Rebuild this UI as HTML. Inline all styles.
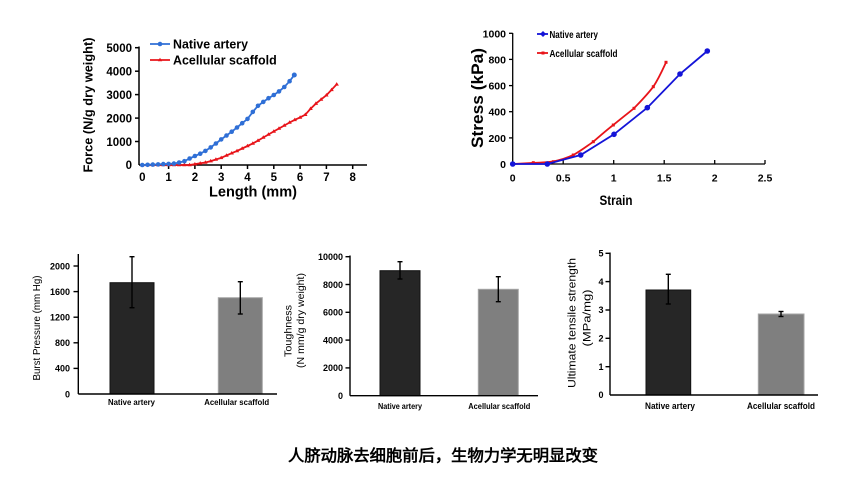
<!DOCTYPE html>
<html><head><meta charset="utf-8"><style>
html,body{margin:0;padding:0;background:#fff;}
svg{display:block;}
text{font-family:"Liberation Sans",Arial,sans-serif;}
</style></head><body>
<svg width="847" height="487" viewBox="0 0 847 487" xmlns="http://www.w3.org/2000/svg">
<rect width="847" height="487" fill="#fff"/>

<!-- ===== Chart 1: Force vs Length ===== -->
<g stroke="#000" stroke-width="1.5" fill="none">
  <line x1="139" y1="46.5" x2="139" y2="165"/>
  <line x1="139" y1="165" x2="367" y2="165"/>
  <line x1="135" y1="47.7" x2="139" y2="47.7"/>
  <line x1="135" y1="71.2" x2="139" y2="71.2"/>
  <line x1="135" y1="94.6" x2="139" y2="94.6"/>
  <line x1="135" y1="118.1" x2="139" y2="118.1"/>
  <line x1="135" y1="141.5" x2="139" y2="141.5"/>
  <line x1="168.6" y1="165" x2="168.6" y2="169"/>
  <line x1="194.9" y1="165" x2="194.9" y2="169"/>
  <line x1="221.2" y1="165" x2="221.2" y2="169"/>
  <line x1="247.5" y1="165" x2="247.5" y2="169"/>
  <line x1="273.8" y1="165" x2="273.8" y2="169"/>
  <line x1="300.1" y1="165" x2="300.1" y2="169"/>
  <line x1="326.4" y1="165" x2="326.4" y2="169"/>
  <line x1="352.7" y1="165" x2="352.7" y2="169"/>
</g>
<g font-size="11.5" font-weight="bold" text-anchor="end" fill="#000">
  <text x="132" y="52">5000</text>
  <text x="132" y="75.5">4000</text>
  <text x="132" y="99">3000</text>
  <text x="132" y="122.5">2000</text>
  <text x="132" y="146">1000</text>
  <text x="132" y="169">0</text>
</g>
<g font-size="11.5" font-weight="bold" text-anchor="middle" fill="#000">
  <text x="142.3" y="181">0</text>
  <text x="168.6" y="181">1</text>
  <text x="194.9" y="181">2</text>
  <text x="221.2" y="181">3</text>
  <text x="247.5" y="181">4</text>
  <text x="273.8" y="181">5</text>
  <text x="300.1" y="181">6</text>
  <text x="326.4" y="181">7</text>
  <text x="352.7" y="181">8</text>
</g>
<text x="253" y="196.5" font-size="14.5" font-weight="bold" text-anchor="middle" textLength="88" lengthAdjust="spacingAndGlyphs">Length (mm)</text>
<text transform="translate(92.5,105) rotate(-90)" font-size="13" font-weight="bold" text-anchor="middle" textLength="135" lengthAdjust="spacingAndGlyphs">Force (N/g dry weight)</text>

<!-- red series -->
<polyline fill="none" stroke="#e8141a" stroke-width="1.8" points="142.3,165 147.6,165 152.8,165 158.1,165 163.3,165 168.6,165 173.9,165 179.1,165 184.4,165 189.6,165 194.9,164.2 200.2,163.3 205.4,162.5 210.7,161.1 215.9,159.5 221.2,157.8 226.5,155.5 231.7,153.2 237,150.9 242.2,148.5 247.5,146 252.8,143.5 258,140.6 263.3,137.5 268.5,134.5 273.8,131.4 279,128.5 284.3,125.5 289.6,122.5 294.8,119.8 300.1,117.4 305.3,114.7 310.6,108.7 315.9,103.6 321.1,99.4 326.4,95.2 331.6,89.8 336.7,84.3"/>
<g fill="#e8141a">
  <path d="M142.3,162.8 l2.2,3.5 h-4.4z M147.6,162.8 l2.2,3.5 h-4.4z M152.8,162.8 l2.2,3.5 h-4.4z M158.1,162.8 l2.2,3.5 h-4.4z M163.3,162.8 l2.2,3.5 h-4.4z M168.6,162.8 l2.2,3.5 h-4.4z M173.9,162.8 l2.2,3.5 h-4.4z M179.1,162.8 l2.2,3.5 h-4.4z M184.4,162.8 l2.2,3.5 h-4.4z M189.6,162.8 l2.2,3.5 h-4.4z M194.9,162 l2.2,3.5 h-4.4z M200.2,161.1 l2.2,3.5 h-4.4z M205.4,160.3 l2.2,3.5 h-4.4z M210.7,158.9 l2.2,3.5 h-4.4z M215.9,157.3 l2.2,3.5 h-4.4z M221.2,155.6 l2.2,3.5 h-4.4z M226.5,153.3 l2.2,3.5 h-4.4z M231.7,151 l2.2,3.5 h-4.4z M237,148.7 l2.2,3.5 h-4.4z M242.2,146.3 l2.2,3.5 h-4.4z M247.5,143.8 l2.2,3.5 h-4.4z M252.8,141.3 l2.2,3.5 h-4.4z M258,138.4 l2.2,3.5 h-4.4z M263.3,135.3 l2.2,3.5 h-4.4z M268.5,132.3 l2.2,3.5 h-4.4z M273.8,129.2 l2.2,3.5 h-4.4z M279,126.3 l2.2,3.5 h-4.4z M284.3,123.3 l2.2,3.5 h-4.4z M289.6,120.3 l2.2,3.5 h-4.4z M294.8,117.6 l2.2,3.5 h-4.4z M300.1,115.2 l2.2,3.5 h-4.4z M305.3,112.5 l2.2,3.5 h-4.4z M310.6,106.5 l2.2,3.5 h-4.4z M315.9,101.4 l2.2,3.5 h-4.4z M321.1,97.2 l2.2,3.5 h-4.4z M326.4,93 l2.2,3.5 h-4.4z M331.6,87.6 l2.2,3.5 h-4.4z M336.7,82.1 l2.2,3.5 h-4.4z"/>
</g>
<!-- blue series -->
<polyline fill="none" stroke="#2f6fd6" stroke-width="1.8" points="142.3,165 147.6,164.8 152.8,164.6 158.1,164.4 163.3,164.1 168.6,163.9 173.9,163.6 179.1,162.5 184.4,161.2 189.6,158.5 194.9,156 200.2,153.7 205.4,150.9 210.7,147.4 215.9,143.5 221.2,139.4 226.5,135.5 231.7,131.7 237,127.5 242.2,123.2 247.5,118.9 252.8,111.9 258,105.8 263.3,101.9 268.5,98.2 273.8,95 279,91.4 284.3,87 289.6,81.2 294.3,75"/>
<g fill="#2f6fd6">
  <circle cx="142.3" cy="165" r="2.3"/><circle cx="147.6" cy="164.8" r="2.3"/><circle cx="152.8" cy="164.6" r="2.3"/><circle cx="158.1" cy="164.4" r="2.3"/><circle cx="163.3" cy="164.1" r="2.3"/><circle cx="168.6" cy="163.9" r="2.3"/><circle cx="173.9" cy="163.6" r="2.3"/><circle cx="179.1" cy="162.5" r="2.3"/><circle cx="184.4" cy="161.2" r="2.3"/><circle cx="189.6" cy="158.5" r="2.3"/><circle cx="194.9" cy="156" r="2.3"/><circle cx="200.2" cy="153.7" r="2.3"/><circle cx="205.4" cy="150.9" r="2.3"/><circle cx="210.7" cy="147.4" r="2.3"/><circle cx="215.9" cy="143.5" r="2.3"/><circle cx="221.2" cy="139.4" r="2.3"/><circle cx="226.5" cy="135.5" r="2.3"/><circle cx="231.7" cy="131.7" r="2.3"/><circle cx="237" cy="127.5" r="2.3"/><circle cx="242.2" cy="123.2" r="2.3"/><circle cx="247.5" cy="118.9" r="2.3"/><circle cx="252.8" cy="111.9" r="2.3"/><circle cx="258" cy="105.8" r="2.3"/><circle cx="263.3" cy="101.9" r="2.3"/><circle cx="268.5" cy="98.2" r="2.3"/><circle cx="273.8" cy="95" r="2.3"/><circle cx="279" cy="91.4" r="2.3"/><circle cx="284.3" cy="87" r="2.3"/><circle cx="289.6" cy="81.2" r="2.3"/><circle cx="294.3" cy="75" r="2.5"/>
</g>
<!-- legend 1 -->
<line x1="150" y1="44" x2="170" y2="44" stroke="#2f6fd6" stroke-width="1.8"/>
<circle cx="160" cy="44" r="2.3" fill="#2f6fd6"/>
<text x="173" y="48.5" font-size="12.5" font-weight="bold" textLength="75" lengthAdjust="spacingAndGlyphs">Native artery</text>
<line x1="150" y1="60" x2="170" y2="60" stroke="#e8141a" stroke-width="1.8"/>
<path d="M160,57.8 l2.2,3.5 h-4.4z" fill="#e8141a"/>
<text x="173" y="64.5" font-size="12.5" font-weight="bold" textLength="103.7" lengthAdjust="spacingAndGlyphs">Acellular scaffold</text>

<!-- ===== Chart 2: Stress vs Strain ===== -->
<g stroke="#000" stroke-width="1.3" fill="none">
  <line x1="512.7" y1="33" x2="512.7" y2="164"/>
  <line x1="512.7" y1="164" x2="765" y2="164"/>
  <line x1="509" y1="33.3" x2="512.7" y2="33.3"/>
  <line x1="509" y1="59.4" x2="512.7" y2="59.4"/>
  <line x1="509" y1="85.6" x2="512.7" y2="85.6"/>
  <line x1="509" y1="111.7" x2="512.7" y2="111.7"/>
  <line x1="509" y1="137.9" x2="512.7" y2="137.9"/>
  <line x1="563.2" y1="164" x2="563.2" y2="160"/>
  <line x1="613.7" y1="164" x2="613.7" y2="160"/>
  <line x1="664.2" y1="164" x2="664.2" y2="160"/>
  <line x1="714.7" y1="164" x2="714.7" y2="160"/>
  <line x1="765" y1="164" x2="765" y2="160"/>
</g>
<g font-size="10.5" font-weight="bold" text-anchor="end" fill="#000">
  <text x="506" y="37.3">1000</text>
  <text x="506" y="63.4">800</text>
  <text x="506" y="89.6">600</text>
  <text x="506" y="115.7">400</text>
  <text x="506" y="141.9">200</text>
  <text x="506" y="168">0</text>
</g>
<g font-size="10.5" font-weight="bold" text-anchor="middle" fill="#000">
  <text x="512.7" y="181.5">0</text>
  <text x="563.2" y="181.5">0.5</text>
  <text x="613.7" y="181.5">1</text>
  <text x="664.2" y="181.5">1.5</text>
  <text x="714.7" y="181.5">2</text>
  <text x="765" y="181.5">2.5</text>
</g>
<text x="616" y="205" font-size="14" font-weight="bold" text-anchor="middle" textLength="33" lengthAdjust="spacingAndGlyphs">Strain</text>
<text transform="translate(483,98) rotate(-90)" font-size="16.5" font-weight="bold" text-anchor="middle" textLength="100" lengthAdjust="spacingAndGlyphs">Stress (kPa)</text>

<path d="M512.7,164 L533.3,162.9 C543,162.5 548,162.2 553.3,161.5 C563,159.5 568,157.5 573.3,155 C582,150 587,146 593.3,141.7 C600,136 606,130.5 613.3,125 C620,119.5 627,114 634,108.3 C641,101 647,95 653.3,86.7 C659,78 662,71 666,62.3" fill="none" stroke="#e8141a" stroke-width="1.8"/>
<g fill="#e8141a">
  <rect x="511.2" y="162.5" width="3" height="3"/><rect x="531.8" y="161.2" width="3" height="3"/><rect x="551.8" y="160.2" width="3" height="3"/><rect x="571.8" y="153.5" width="3" height="3"/><rect x="591.8" y="140.2" width="3" height="3"/><rect x="611.8" y="123.5" width="3" height="3"/><rect x="632.5" y="106.8" width="3" height="3"/><rect x="651.8" y="85.2" width="3" height="3"/><rect x="664.5" y="60.8" width="3" height="3"/>
</g>
<polyline fill="none" stroke="#1414d8" stroke-width="1.8" points="512.7,164 547.3,164 580.7,155 614,134.3 647.3,107.7 680,74 707.3,51"/>
<g fill="#1414d8">
  <circle cx="512.7" cy="164" r="2.8"/><circle cx="547.3" cy="164" r="2.8"/><circle cx="580.7" cy="155" r="2.8"/><circle cx="614" cy="134.3" r="2.8"/><circle cx="647.3" cy="107.7" r="2.8"/><circle cx="680" cy="74" r="2.8"/><circle cx="707.3" cy="51" r="2.8"/>
</g>
<!-- legend 2 -->
<line x1="537" y1="34" x2="548" y2="34" stroke="#1414d8" stroke-width="1.8"/>
<path d="M543,31 l3,3 l-3,3 l-3,-3z" fill="#1414d8"/>
<text x="549.5" y="37.8" font-size="10.5" font-weight="bold" textLength="48.5" lengthAdjust="spacingAndGlyphs">Native artery</text>
<line x1="537" y1="53" x2="548" y2="53" stroke="#e8141a" stroke-width="1.8"/>
<rect x="541.5" y="51.5" width="3" height="3" fill="#e8141a"/>
<text x="549.5" y="56.8" font-size="10.5" font-weight="bold" textLength="68" lengthAdjust="spacingAndGlyphs">Acellular scaffold</text>

<!-- ===== Bar chart A: Burst Pressure ===== -->
<rect x="110" y="282.7" width="44" height="111.3" fill="#262626" stroke="#111" stroke-width="1"/>
<rect x="218.3" y="297.7" width="44" height="96.3" fill="#7f7f7f" stroke="#a6a6a6" stroke-width="1"/>
<g stroke="#000" stroke-width="1.4" fill="none">
  <line x1="78.3" y1="254" x2="78.3" y2="394"/>
  <line x1="78.3" y1="394" x2="277" y2="394"/>
  <line x1="73.5" y1="266" x2="78.3" y2="266"/>
  <line x1="73.5" y1="291.6" x2="78.3" y2="291.6"/>
  <line x1="73.5" y1="317.2" x2="78.3" y2="317.2"/>
  <line x1="73.5" y1="342.8" x2="78.3" y2="342.8"/>
  <line x1="73.5" y1="368.4" x2="78.3" y2="368.4"/>
  <line x1="132" y1="256.7" x2="132" y2="307.7"/>
  <line x1="129.5" y1="256.7" x2="134.5" y2="256.7"/>
  <line x1="129.5" y1="307.7" x2="134.5" y2="307.7"/>
  <line x1="240.3" y1="281.7" x2="240.3" y2="314"/>
  <line x1="237.8" y1="281.7" x2="242.8" y2="281.7"/>
  <line x1="237.8" y1="314" x2="242.8" y2="314"/>
</g>
<g font-size="9" font-weight="bold" text-anchor="end" fill="#000">
  <text x="70" y="269.3">2000</text>
  <text x="70" y="294.9">1600</text>
  <text x="70" y="320.5">1200</text>
  <text x="70" y="346.1">800</text>
  <text x="70" y="371.7">400</text>
  <text x="70" y="397.3">0</text>
</g>
<text x="131.5" y="405" font-size="8.5" font-weight="bold" text-anchor="middle" textLength="47" lengthAdjust="spacingAndGlyphs">Native artery</text>
<text x="236.7" y="405" font-size="8.5" font-weight="bold" text-anchor="middle" textLength="65" lengthAdjust="spacingAndGlyphs">Acellular scaffold</text>
<text transform="translate(40,328) rotate(-90)" font-size="10" text-anchor="middle" textLength="105" lengthAdjust="spacingAndGlyphs">Burst Pressure (mm Hg)</text>

<!-- ===== Bar chart B: Toughness ===== -->
<rect x="380" y="270.7" width="40" height="125" fill="#262626" stroke="#111" stroke-width="1"/>
<rect x="478.3" y="289.3" width="40" height="106.4" fill="#7f7f7f" stroke="#a6a6a6" stroke-width="1"/>
<g stroke="#000" stroke-width="1.4" fill="none">
  <line x1="350" y1="255.5" x2="350" y2="395.7"/>
  <line x1="350" y1="395.7" x2="538" y2="395.7"/>
  <line x1="345.5" y1="256.7" x2="350" y2="256.7"/>
  <line x1="345.5" y1="284.5" x2="350" y2="284.5"/>
  <line x1="345.5" y1="312.3" x2="350" y2="312.3"/>
  <line x1="345.5" y1="340.1" x2="350" y2="340.1"/>
  <line x1="345.5" y1="367.9" x2="350" y2="367.9"/>
  <line x1="400" y1="261.7" x2="400" y2="279"/>
  <line x1="397.5" y1="261.7" x2="402.5" y2="261.7"/>
  <line x1="397.5" y1="279" x2="402.5" y2="279"/>
  <line x1="498.3" y1="276.7" x2="498.3" y2="301.7"/>
  <line x1="495.8" y1="276.7" x2="500.8" y2="276.7"/>
  <line x1="495.8" y1="301.7" x2="500.8" y2="301.7"/>
</g>
<g font-size="9" font-weight="bold" text-anchor="end" fill="#000">
  <text x="343" y="260">10000</text>
  <text x="343" y="287.8">8000</text>
  <text x="343" y="315.6">6000</text>
  <text x="343" y="343.4">4000</text>
  <text x="343" y="371.2">2000</text>
  <text x="343" y="399">0</text>
</g>
<text x="400" y="409" font-size="8.5" font-weight="bold" text-anchor="middle" textLength="44" lengthAdjust="spacingAndGlyphs">Native artery</text>
<text x="499.3" y="409" font-size="8.5" font-weight="bold" text-anchor="middle" textLength="62" lengthAdjust="spacingAndGlyphs">Acellular scaffold</text>
<text transform="translate(291.5,331) rotate(-90)" font-size="10.5" text-anchor="middle" textLength="52" lengthAdjust="spacingAndGlyphs">Toughness</text>
<text transform="translate(304,320.5) rotate(-90)" font-size="10.5" text-anchor="middle" textLength="95" lengthAdjust="spacingAndGlyphs">(N mm/g dry weight)</text>

<!-- ===== Bar chart C: UTS ===== -->
<rect x="646" y="290" width="44.7" height="105" fill="#262626" stroke="#111" stroke-width="1"/>
<rect x="758.3" y="314" width="45.7" height="81" fill="#7f7f7f" stroke="#a6a6a6" stroke-width="1"/>
<g stroke="#000" stroke-width="1.4" fill="none">
  <line x1="610" y1="252.5" x2="610" y2="395"/>
  <line x1="610" y1="395" x2="818" y2="395"/>
  <line x1="605.5" y1="253.3" x2="610" y2="253.3"/>
  <line x1="605.5" y1="281.6" x2="610" y2="281.6"/>
  <line x1="605.5" y1="310" x2="610" y2="310"/>
  <line x1="605.5" y1="338.3" x2="610" y2="338.3"/>
  <line x1="605.5" y1="366.7" x2="610" y2="366.7"/>
  <line x1="668.3" y1="274.3" x2="668.3" y2="304"/>
  <line x1="665.8" y1="274.3" x2="670.8" y2="274.3"/>
  <line x1="665.8" y1="304" x2="670.8" y2="304"/>
  <line x1="781" y1="311.5" x2="781" y2="316.5"/>
  <line x1="778.5" y1="311.5" x2="783.5" y2="311.5"/>
  <line x1="778.5" y1="316.5" x2="783.5" y2="316.5"/>
</g>
<g font-size="9" font-weight="bold" text-anchor="end" fill="#000">
  <text x="603.5" y="256.5">5</text>
  <text x="603.5" y="284.8">4</text>
  <text x="603.5" y="313.2">3</text>
  <text x="603.5" y="341.5">2</text>
  <text x="603.5" y="369.9">1</text>
  <text x="603.5" y="398.2">0</text>
</g>
<text x="670" y="409" font-size="9" font-weight="bold" text-anchor="middle" textLength="50" lengthAdjust="spacingAndGlyphs">Native artery</text>
<text x="781" y="409" font-size="9" font-weight="bold" text-anchor="middle" textLength="68" lengthAdjust="spacingAndGlyphs">Acellular scaffold</text>
<text transform="translate(575.5,323) rotate(-90)" font-size="11" text-anchor="middle" textLength="130" lengthAdjust="spacingAndGlyphs">Ultimate tensile strength</text>
<text transform="translate(590.5,318) rotate(-90)" font-size="11" text-anchor="middle" textLength="57" lengthAdjust="spacingAndGlyphs">(MPa/mg)</text>

<!-- caption -->
<text x="443" y="461" font-family="'Noto Serif CJK SC','Noto Sans CJK SC',serif" font-size="16" font-weight="bold" text-anchor="middle" textLength="310" lengthAdjust="spacingAndGlyphs">人脐动脉去细胞前后，生物力学无明显改变</text>
</svg>
</body></html>
